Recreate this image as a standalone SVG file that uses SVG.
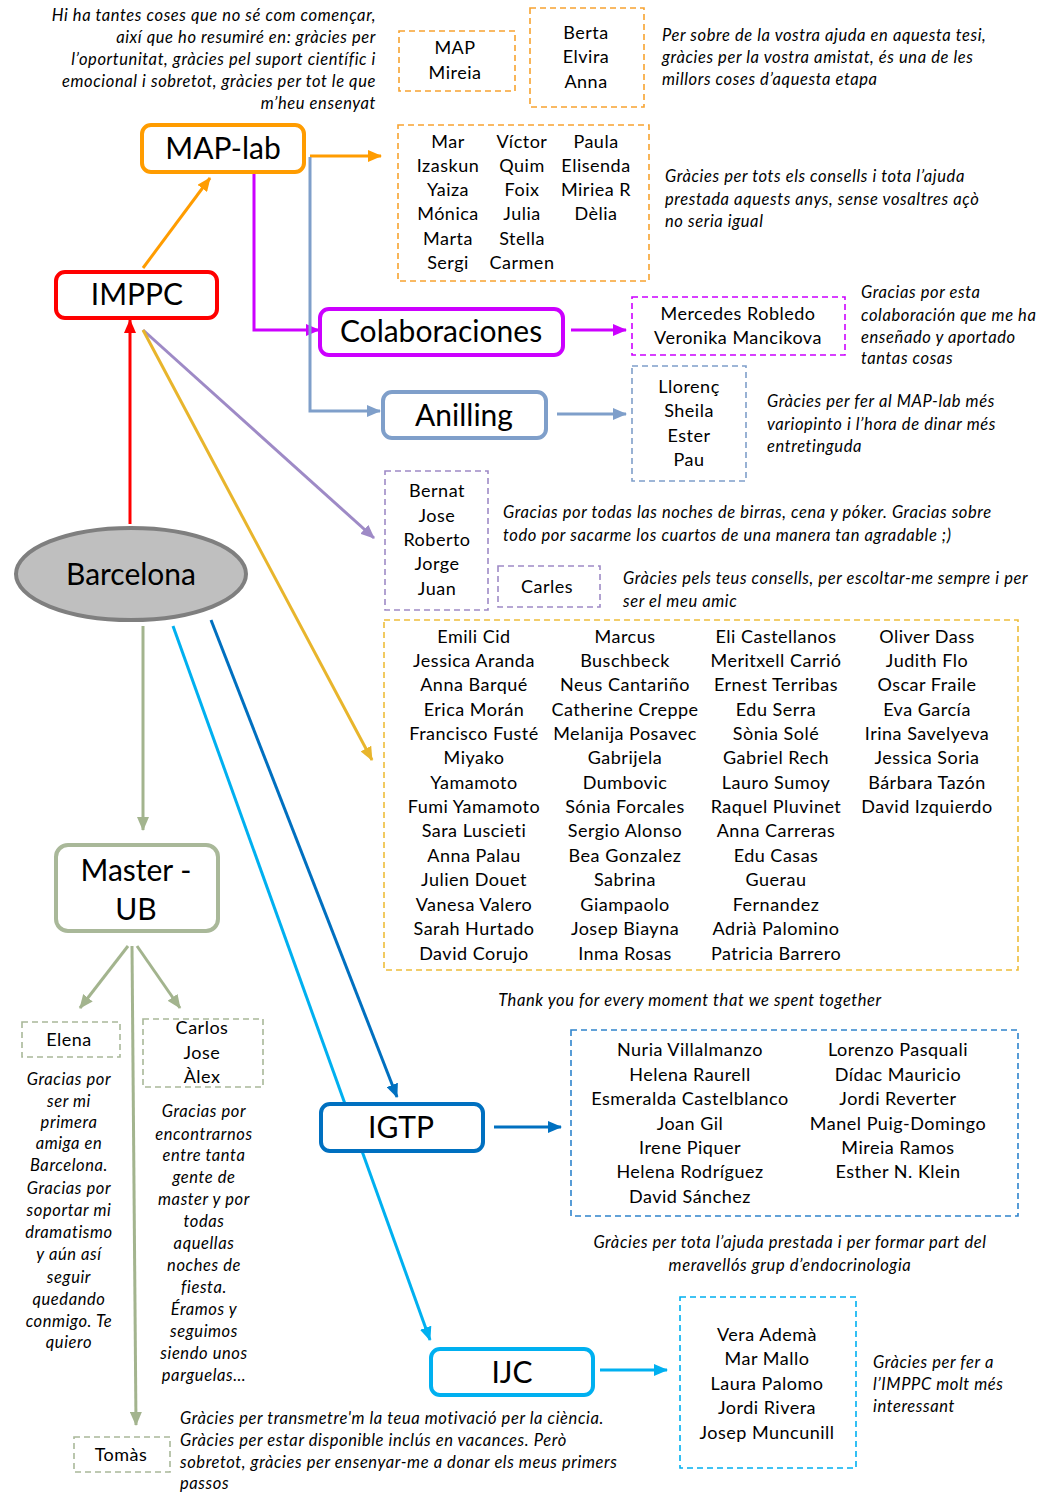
<svg xmlns="http://www.w3.org/2000/svg" width="1048" height="1494" viewBox="0 0 1048 1494">
<defs>
<style>
text{font-family:Lato,"Liberation Sans",sans-serif;fill:#000}
.nm{font-size:18px;text-anchor:middle;letter-spacing:0.5px}
.it,.itc,.itr{font-size:16.5px;font-style:italic;letter-spacing:0.6px}
.itc{text-anchor:middle}
.itr{text-anchor:end}
.lb{font-size:30px;text-anchor:middle}
.node{fill:#fff;stroke-width:4}
.dash{fill:none;stroke-width:1.6;stroke-dasharray:6,4}
.c{fill:none;stroke-width:3}
</style>
<marker id="aOr" markerUnits="userSpaceOnUse" markerWidth="14" markerHeight="12" refX="13" refY="6" orient="auto"><path d="M0,0L14,6L0,12z" fill="#ff9c00"/></marker>
<marker id="aMg" markerUnits="userSpaceOnUse" markerWidth="14" markerHeight="12" refX="13" refY="6" orient="auto"><path d="M0,0L14,6L0,12z" fill="#cc00ff"/></marker>
<marker id="aSb" markerUnits="userSpaceOnUse" markerWidth="14" markerHeight="12" refX="13" refY="6" orient="auto"><path d="M0,0L14,6L0,12z" fill="#7f9fca"/></marker>
<marker id="aLv" markerUnits="userSpaceOnUse" markerWidth="14" markerHeight="12" refX="13" refY="6" orient="auto"><path d="M0,0L14,6L0,12z" fill="#9e8ac6"/></marker>
<marker id="aYl" markerUnits="userSpaceOnUse" markerWidth="14" markerHeight="12" refX="13" refY="6" orient="auto"><path d="M0,0L14,6L0,12z" fill="#e8b52c"/></marker>
<marker id="aRd" markerUnits="userSpaceOnUse" markerWidth="14" markerHeight="12" refX="13" refY="6" orient="auto"><path d="M0,0L14,6L0,12z" fill="#ff0000"/></marker>
<marker id="aGr" markerUnits="userSpaceOnUse" markerWidth="14" markerHeight="12" refX="13" refY="6" orient="auto"><path d="M0,0L14,6L0,12z" fill="#a3b48e"/></marker>
<marker id="aDb" markerUnits="userSpaceOnUse" markerWidth="14" markerHeight="12" refX="13" refY="6" orient="auto"><path d="M0,0L14,6L0,12z" fill="#0070c0"/></marker>
<marker id="aLb" markerUnits="userSpaceOnUse" markerWidth="14" markerHeight="12" refX="13" refY="6" orient="auto"><path d="M0,0L14,6L0,12z" fill="#00b0f0"/></marker>
</defs>
<rect width="1048" height="1494" fill="#fff"/>

<g id="connectors">
<line class="c" x1="143" y1="268" x2="210" y2="178" stroke="#ff9c00" marker-end="url(#aOr)"/>
<line class="c" x1="310" y1="156" x2="381" y2="156" stroke="#ff9c00" marker-end="url(#aOr)"/>
<polyline class="c" points="254,172 254,330 319,330" stroke="#cc00ff" marker-end="url(#aMg)"/>
<polyline class="c" points="310,157 310,411 380,411" stroke="#7f9fca" marker-end="url(#aSb)"/>
<line class="c" x1="571" y1="330" x2="626" y2="330" stroke="#cc00ff" marker-end="url(#aMg)"/>
<line class="c" x1="557" y1="414" x2="626" y2="414" stroke="#7f9fca" marker-end="url(#aSb)"/>
<line class="c" x1="143" y1="330" x2="374" y2="538" stroke="#9e8ac6" marker-end="url(#aLv)"/>
<line class="c" x1="143" y1="330" x2="372" y2="760" stroke="#e8b52c" marker-end="url(#aYl)"/>
<line class="c" x1="130" y1="524" x2="130" y2="320" stroke="#ff0000" marker-end="url(#aRd)"/>
<line class="c" x1="143" y1="626" x2="143" y2="830" stroke="#a3b48e" marker-end="url(#aGr)"/>
<line class="c" x1="211" y1="620" x2="397" y2="1097" stroke="#0070c0" marker-end="url(#aDb)"/>
<line class="c" x1="173" y1="626" x2="430" y2="1340" stroke="#00b0f0" marker-end="url(#aLb)"/>
<line class="c" x1="494" y1="1127" x2="561" y2="1127" stroke="#0070c0" marker-end="url(#aDb)"/>
<line class="c" x1="600" y1="1370" x2="667" y2="1370" stroke="#00b0f0" marker-end="url(#aLb)"/>
<line class="c" x1="128" y1="946" x2="80" y2="1008" stroke="#a3b48e" marker-end="url(#aGr)"/>
<line class="c" x1="137" y1="946" x2="180" y2="1008" stroke="#a3b48e" marker-end="url(#aGr)"/>
<line class="c" x1="132" y1="946" x2="136" y2="1425" stroke="#a3b48e" marker-end="url(#aGr)"/>
</g>

<g id="intro">
<text class="itr" x="376" y="21">Hi ha tantes coses que no sé com començar,</text>
<text class="itr" x="376" y="43">així que ho resumiré en: gràcies per</text>
<text class="itr" x="376" y="65">l’oportunitat, gràcies pel suport científic i</text>
<text class="itr" x="376" y="87">emocional i sobretot, gràcies per tot le que</text>
<text class="itr" x="376" y="109">m’heu ensenyat</text>
</g>

<g id="map-mireia">
<rect class="dash" x="399" y="31" width="116" height="60" stroke="#f7a330"/>
<text class="nm" x="455" y="54">MAP</text>
<text class="nm" x="455" y="79">Mireia</text>
</g>

<g id="berta">
<rect class="dash" x="530" y="8" width="114" height="99" stroke="#f7a330"/>
<text class="nm" x="586" y="39">Berta</text>
<text class="nm" x="586" y="63">Elvira</text>
<text class="nm" x="586" y="88">Anna</text>
<text class="it" x="662" y="41">Per sobre de la vostra ajuda  en aquesta tesi,</text>
<text class="it" x="662" y="63">gràcies per la vostra amistat, és una de les</text>
<text class="it" x="662" y="85">millors coses d’aquesta etapa</text>
</g>

<g id="map-lab">
<rect class="node" x="142" y="125" width="162" height="47" rx="9" stroke="#ff9c00"/>
<text class="lb" x="223" y="159">MAP-lab</text>
</g>

<g id="maplab-people">
<rect class="dash" x="398" y="125" width="251" height="156" stroke="#f7a330"/>
<text class="nm" x="448" y="148">Mar</text>
<text class="nm" x="448" y="172">Izaskun</text>
<text class="nm" x="448" y="196">Yaiza</text>
<text class="nm" x="448" y="220">Mónica</text>
<text class="nm" x="448" y="245">Marta</text>
<text class="nm" x="448" y="269">Sergi</text>
<text class="nm" x="522" y="148">Víctor</text>
<text class="nm" x="522" y="172">Quim</text>
<text class="nm" x="522" y="196">Foix</text>
<text class="nm" x="522" y="220">Julia</text>
<text class="nm" x="522" y="245">Stella</text>
<text class="nm" x="522" y="269">Carmen</text>
<text class="nm" x="596" y="148">Paula</text>
<text class="nm" x="596" y="172">Elisenda</text>
<text class="nm" x="596" y="196">Miriea R</text>
<text class="nm" x="596" y="220">Dèlia</text>
<text class="it" x="665" y="182">Gràcies per tots els consells i tota l’ajuda</text>
<text class="it" x="665" y="205">prestada aquests anys, sense vosaltres açò</text>
<text class="it" x="665" y="227">no seria igual</text>
</g>

<g id="imppc">
<rect class="node" x="56" y="272" width="161" height="46" rx="9" stroke="#ff0000"/>
<text class="lb" x="137" y="305">IMPPC</text>
</g>

<g id="colaboraciones">
<rect class="node" x="320" y="309" width="243" height="46" rx="9" stroke="#cc00ff"/>
<text class="lb" x="441" y="342">Colaboraciones</text>
</g>

<g id="colab-people">
<rect class="dash" x="632" y="297" width="213" height="58" stroke="#cc00ff"/>
<text class="nm" x="738" y="320">Mercedes  Robledo</text>
<text class="nm" x="738" y="344">Veronika Mancikova</text>
<text class="it" x="861" y="298">Gracias por esta</text>
<text class="it" x="861" y="321">colaboración  que me ha</text>
<text class="it" x="861" y="343">enseñado y aportado</text>
<text class="it" x="861" y="364">tantas cosas</text>
</g>

<g id="anilling">
<rect class="node" x="383" y="392" width="163" height="46" rx="9" stroke="#7f9fca"/>
<text class="lb" x="464" y="426">Anilling</text>
</g>

<g id="anilling-people">
<rect class="dash" x="632" y="366" width="114" height="115" stroke="#7f9fca"/>
<text class="nm" x="689" y="393">Llorenç</text>
<text class="nm" x="689" y="417">Sheila</text>
<text class="nm" x="689" y="442">Ester</text>
<text class="nm" x="689" y="466">Pau</text>
<text class="it" x="767" y="407">Gràcies per fer al MAP-lab més</text>
<text class="it" x="767" y="430">variopinto i l’hora de dinar més</text>
<text class="it" x="767" y="452">entretinguda</text>
</g>

<g id="poker">
<rect class="dash" x="385" y="471" width="103" height="139" stroke="#9e8ac6"/>
<text class="nm" x="437" y="497">Bernat</text>
<text class="nm" x="437" y="522">Jose</text>
<text class="nm" x="437" y="546">Roberto</text>
<text class="nm" x="437" y="570">Jorge</text>
<text class="nm" x="437" y="595">Juan</text>
<text class="it" x="503" y="518">Gracias por todas las noches de birras, cena y póker. Gracias sobre</text>
<text class="it" x="503" y="541">todo por sacarme los cuartos de una manera tan agradable ;)</text>
</g>

<g id="carles">
<rect class="dash" x="498" y="566" width="102" height="41" stroke="#9e8ac6"/>
<text class="nm" x="547" y="593">Carles</text>
<text class="it" x="623" y="584">Gràcies pels teus consells, per escoltar-me sempre i per</text>
<text class="it" x="623" y="607">ser el meu amic</text>
</g>

<g id="imppc-people">
<rect class="dash" x="384" y="620" width="634" height="350" stroke="#eebd3a"/>
<text class="nm" x="474" y="643">Emili Cid</text>
<text class="nm" x="474" y="667">Jessica Aranda</text>
<text class="nm" x="474" y="691">Anna Barqué</text>
<text class="nm" x="474" y="716">Erica Morán</text>
<text class="nm" x="474" y="740">Francisco Fusté</text>
<text class="nm" x="474" y="764">Miyako</text>
<text class="nm" x="474" y="789">Yamamoto</text>
<text class="nm" x="474" y="813">Fumi Yamamoto</text>
<text class="nm" x="474" y="837">Sara Luscieti</text>
<text class="nm" x="474" y="862">Anna Palau</text>
<text class="nm" x="474" y="886">Julien Douet</text>
<text class="nm" x="474" y="911">Vanesa Valero</text>
<text class="nm" x="474" y="935">Sarah Hurtado</text>
<text class="nm" x="474" y="960">David Corujo</text>
<text class="nm" x="625" y="643">Marcus</text>
<text class="nm" x="625" y="667">Buschbeck</text>
<text class="nm" x="625" y="691">Neus Cantariño</text>
<text class="nm" x="625" y="716">Catherine Creppe</text>
<text class="nm" x="625" y="740">Melanija Posavec</text>
<text class="nm" x="625" y="764">Gabrijela</text>
<text class="nm" x="625" y="789">Dumbovic</text>
<text class="nm" x="625" y="813">Sónia Forcales</text>
<text class="nm" x="625" y="837">Sergio Alonso</text>
<text class="nm" x="625" y="862">Bea Gonzalez</text>
<text class="nm" x="625" y="886">Sabrina</text>
<text class="nm" x="625" y="911">Giampaolo</text>
<text class="nm" x="625" y="935">Josep Biayna</text>
<text class="nm" x="625" y="960">Inma Rosas</text>
<text class="nm" x="776" y="643">Eli Castellanos</text>
<text class="nm" x="776" y="667">Meritxell Carrió</text>
<text class="nm" x="776" y="691">Ernest Terribas</text>
<text class="nm" x="776" y="716">Edu Serra</text>
<text class="nm" x="776" y="740">Sònia Solé</text>
<text class="nm" x="776" y="764">Gabriel Rech</text>
<text class="nm" x="776" y="789">Lauro Sumoy</text>
<text class="nm" x="776" y="813">Raquel Pluvinet</text>
<text class="nm" x="776" y="837">Anna Carreras</text>
<text class="nm" x="776" y="862">Edu Casas</text>
<text class="nm" x="776" y="886">Guerau</text>
<text class="nm" x="776" y="911">Fernandez</text>
<text class="nm" x="776" y="935">Adrià Palomino</text>
<text class="nm" x="776" y="960">Patricia Barrero</text>
<text class="nm" x="927" y="643">Oliver Dass</text>
<text class="nm" x="927" y="667">Judith Flo</text>
<text class="nm" x="927" y="691">Oscar Fraile</text>
<text class="nm" x="927" y="716">Eva García</text>
<text class="nm" x="927" y="740">Irina Savelyeva</text>
<text class="nm" x="927" y="764">Jessica Soria</text>
<text class="nm" x="927" y="789">Bárbara Tazón</text>
<text class="nm" x="927" y="813">David Izquierdo</text>
<text class="itc" x="690" y="1006">Thank you  for every moment that we spent together</text>
</g>

<g id="barcelona">
<ellipse cx="131" cy="574" rx="115" ry="46" fill="#bfbfbf" stroke="#7f7f7f" stroke-width="4"/>
<text class="lb" x="131" y="585">Barcelona</text>
</g>

<g id="master-ub">
<rect class="node" x="56" y="845" width="162" height="86" rx="12" stroke="#a9b899"/>
<text class="lb" x="136" y="881">Master -</text>
<text class="lb" x="136" y="920">UB</text>
</g>

<g id="igtp">
<rect class="node" x="321" y="1104" width="162" height="47" rx="9" stroke="#0070c0"/>
<text class="lb" x="401" y="1138">IGTP</text>
</g>

<g id="igtp-people">
<rect class="dash" x="571" y="1030" width="447" height="186" stroke="#2f84cc"/>
<text class="nm" x="690" y="1056">Nuria Villalmanzo</text>
<text class="nm" x="690" y="1081">Helena Raurell</text>
<text class="nm" x="690" y="1105">Esmeralda Castelblanco</text>
<text class="nm" x="690" y="1130">Joan Gil</text>
<text class="nm" x="690" y="1154">Irene Piquer</text>
<text class="nm" x="690" y="1178">Helena Rodríguez</text>
<text class="nm" x="690" y="1203">David Sánchez</text>
<text class="nm" x="898" y="1056">Lorenzo Pasquali</text>
<text class="nm" x="898" y="1081">Dídac Mauricio</text>
<text class="nm" x="898" y="1105">Jordi Reverter</text>
<text class="nm" x="898" y="1130">Manel Puig-Domingo</text>
<text class="nm" x="898" y="1154">Mireia Ramos</text>
<text class="nm" x="898" y="1178">Esther N. Klein</text>
<text class="itc" x="790" y="1248">Gràcies per tota l’ajuda prestada i per formar part del</text>
<text class="itc" x="790" y="1271">meravellós grup d’endocrinologia</text>
</g>

<g id="ijc">
<rect class="node" x="431" y="1349" width="162" height="46" rx="9" stroke="#00b0f0"/>
<text class="lb" x="512" y="1383">IJC</text>
</g>

<g id="ijc-people">
<rect class="dash" x="680" y="1297" width="176" height="171" stroke="#00b0f0"/>
<text class="nm" x="767" y="1341">Vera Ademà</text>
<text class="nm" x="767" y="1365">Mar Mallo</text>
<text class="nm" x="767" y="1390">Laura Palomo</text>
<text class="nm" x="767" y="1414">Jordi Rivera</text>
<text class="nm" x="767" y="1439">Josep Muncunill</text>
<text class="it" x="873" y="1368">Gràcies per fer a</text>
<text class="it" x="873" y="1390">l’IMPPC molt més</text>
<text class="it" x="873" y="1412">interessant</text>
</g>

<g id="elena">
<rect class="dash" x="22" y="1022" width="98" height="35" stroke="#a9b899"/>
<text class="nm" x="69" y="1046">Elena</text>
<text class="itc" x="69" y="1085">Gracias por</text>
<text class="itc" x="69" y="1107">ser mi</text>
<text class="itc" x="69" y="1128">primera</text>
<text class="itc" x="69" y="1149">amiga en</text>
<text class="itc" x="69" y="1171">Barcelona.</text>
<text class="itc" x="69" y="1194">Gracias por</text>
<text class="itc" x="69" y="1216">soportar mi</text>
<text class="itc" x="69" y="1238">dramatismo</text>
<text class="itc" x="69" y="1260">y aún así</text>
<text class="itc" x="69" y="1283">seguir</text>
<text class="itc" x="69" y="1305">quedando</text>
<text class="itc" x="69" y="1327">conmigo. Te</text>
<text class="itc" x="69" y="1348">quiero</text>
</g>

<g id="carlos">
<rect class="dash" x="143" y="1019" width="120" height="68" stroke="#a9b899"/>
<text class="nm" x="202" y="1034">Carlos</text>
<text class="nm" x="202" y="1059">Jose</text>
<text class="nm" x="202" y="1083">Àlex</text>
<text class="itc" x="204" y="1117">Gracias por</text>
<text class="itc" x="204" y="1140">encontrarnos</text>
<text class="itc" x="204" y="1161">entre tanta</text>
<text class="itc" x="204" y="1183">gente de</text>
<text class="itc" x="204" y="1205">master y por</text>
<text class="itc" x="204" y="1227">todas</text>
<text class="itc" x="204" y="1249">aquellas</text>
<text class="itc" x="204" y="1271">noches de</text>
<text class="itc" x="204" y="1293">fiesta.</text>
<text class="itc" x="204" y="1315">Éramos y</text>
<text class="itc" x="204" y="1337">seguimos</text>
<text class="itc" x="204" y="1359">siendo unos</text>
<text class="itc" x="204" y="1381">parguelas…</text>
</g>

<g id="tomas">
<rect class="dash" x="74" y="1437" width="96" height="35" stroke="#a9b899"/>
<text class="nm" x="121" y="1461">Tomàs</text>
<text class="it" x="180" y="1424">Gràcies per transmetre'm la teua motivació per la ciència.</text>
<text class="it" x="180" y="1446">Gràcies per estar disponible inclús en vacances. Però</text>
<text class="it" x="180" y="1468">sobretot, gràcies per ensenyar-me a donar els meus primers</text>
<text class="it" x="180" y="1489">passos</text>
</g>
</svg>
